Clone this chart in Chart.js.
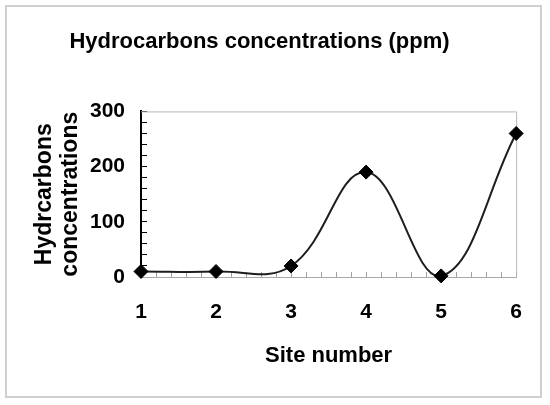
<!DOCTYPE html>
<html>
<head>
<meta charset="utf-8">
<script src="https://cdn.jsdelivr.net/npm/chart.js@4/dist/chart.umd.min.js"></script>
<style>
  html, body { margin: 0; padding: 0; background: #fff; }
  #wrap { position: relative; width: 550px; height: 405px; }
</style>
</head>
<body>
<div id="wrap"><canvas id="c" width="550" height="405"></canvas></div>
<script>
const chartTitle = "Hydrocarbons concentrations (ppm)";
const xAxisTitle = "Site number";
const yAxisTitle = ["Hydrcarbons", "concentrations"];
const sites = [1, 2, 3, 4, 5, 6];
const hydrocarbons = [10, 10, 20, 190, 2, 260];
const yTickLabels = [0, 100, 200, 300];
const xTickLabels = [1, 2, 3, 4, 5, 6];

const FONT = "'Liberation Sans', Arial, sans-serif";

const framePlugin = {
  id: 'frame',
  beforeDraw(chart) {
    const ctx = chart.ctx;
    ctx.save();
    ctx.strokeStyle = '#cfcfcf';
    ctx.lineWidth = 2;
    ctx.strokeRect(6, 6, 535, 391);
    ctx.restore();
  },
  beforeDatasetsDraw(chart) {
    const a = chart.chartArea;
    const ctx = chart.ctx;
    ctx.save();
    ctx.strokeStyle = '#b8b8b8';
    ctx.lineWidth = 1;
    ctx.beginPath();
    ctx.moveTo(a.left, a.top + 0.5);
    ctx.lineTo(a.right + 0.5, a.top + 0.5);
    ctx.lineTo(a.right + 0.5, a.bottom);
    ctx.stroke();
    ctx.restore();
  }
};

new Chart(document.getElementById('c'), {
  type: 'line',
  data: {
    datasets: [{
      data: sites.map((s, i) => ({ x: s, y: hydrocarbons[i] })),
      borderColor: '#1e1e1e',
      borderWidth: 2,
      backgroundColor: '#000',
      pointBackgroundColor: '#000',
      pointBorderColor: '#000',
      pointBorderWidth: 1,
      pointStyle: 'rectRot',
      pointRadius: 7,
      tension: 0.4,
      fill: false,
      clip: false
    }]
  },
  options: {
    responsive: false,
    animation: false,
    devicePixelRatio: 1,
    elements: { line: { capBezierPoints: false } },
    layout: { padding: { left: 0, right: 31, top: 0, bottom: 0 } },
    plugins: {
      legend: { display: false },
      tooltip: { enabled: false },
      title: {
        display: true,
        text: chartTitle,
        color: '#000',
        font: { family: FONT, size: 22, weight: 'bold' },
        padding: { top: 29, bottom: 56 }
      }
    },
    scales: {
      x: {
        type: 'linear',
        position: 'bottom',
        min: 1,
        max: 6,
        afterFit(scale) { scale.height = 128; },
        ticks: {
          stepSize: 0.2,
          autoSkip: false,
          maxRotation: 0,
          padding: 28,
          color: '#000',
          font: { family: FONT, size: 21, weight: 'bold' },
          callback(v) {
            const r = Math.round(v);
            return (Math.abs(v - r) < 1e-6 && xTickLabels.includes(r)) ? String(r) : '';
          }
        },
        grid: {
          drawOnChartArea: false,
          drawTicks: true,
          tickLength: -5,
          color: '#a0a0a0',
          lineWidth: 1
        },
        border: { display: true, color: '#a8a8a8', width: 1 },
        title: {
          display: true,
          text: xAxisTitle,
          color: '#000',
          font: { family: FONT, size: 22, weight: 'bold' },
          padding: { top: 0, bottom: 36 }
        }
      },
      y: {
        type: 'linear',
        position: 'left',
        min: 0,
        max: 300,
        afterFit(scale) { scale.width = 141; },
        ticks: {
          stepSize: 20,
          autoSkip: false,
          padding: 22,
          color: '#000',
          font: { family: FONT, size: 21, weight: 'bold' },
          callback(v) {
            return yTickLabels.includes(v) ? String(v) : '';
          }
        },
        grid: {
          drawOnChartArea: false,
          drawTicks: true,
          tickLength: -6,
          color: '#000',
          lineWidth: 1
        },
        border: { display: true, color: '#000', width: 2 },
        title: {
          display: true,
          text: yAxisTitle,
          color: '#000',
          font: { family: FONT, size: 23, weight: 'bold', lineHeight: 1.15 },
          padding: { top: 31, bottom: 0 }
        }
      }
    }
  },
  plugins: [framePlugin]
});
</script>
</body>
</html>
